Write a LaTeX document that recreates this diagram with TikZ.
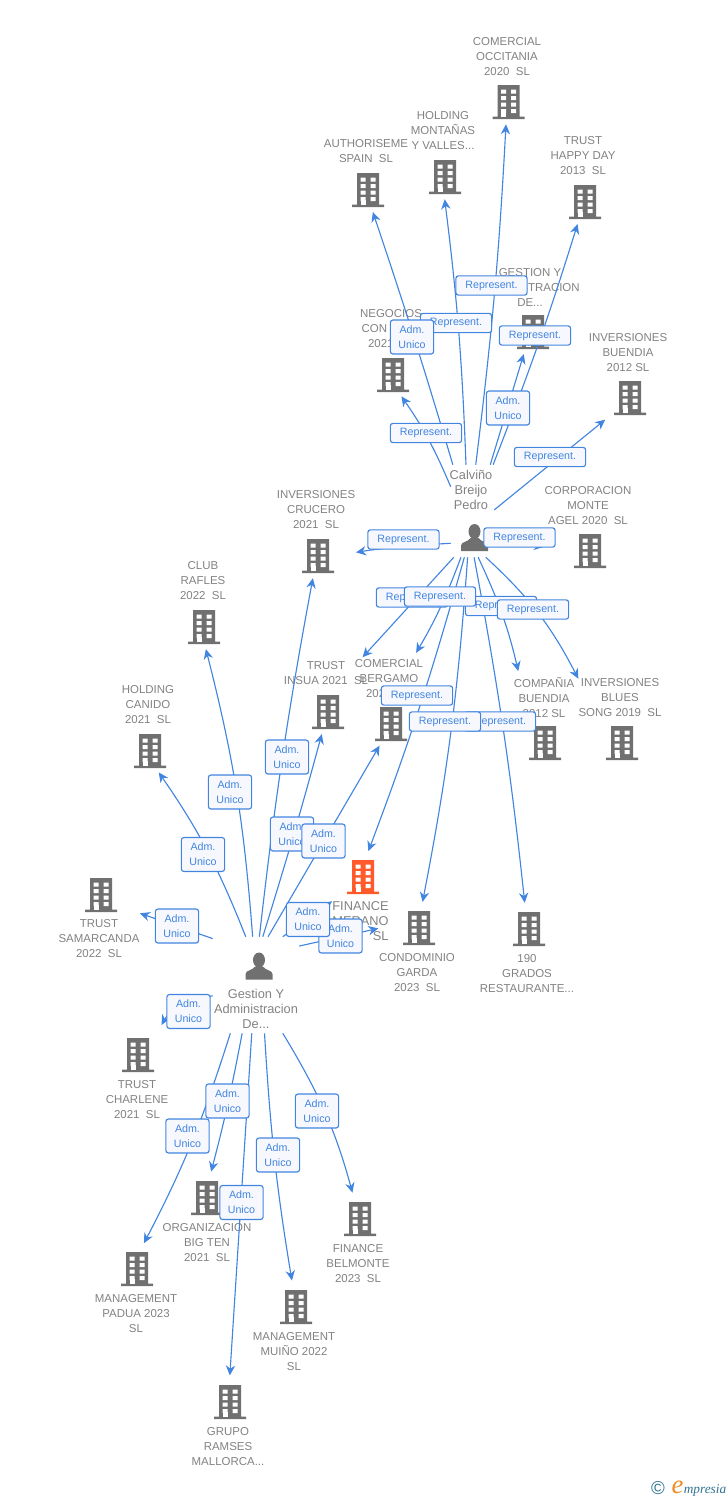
\documentclass[tikz,border=0pt]{standalone}
\usepackage{fontspec}
\setmainfont{Liberation Sans}
\newfontfamily\logofont{Liberation Serif}
\usetikzlibrary{arrows.meta}

\definecolor{linkblue}{HTML}{4285E0}
\definecolor{tagfill}{HTML}{F6F8FD}
\definecolor{icongray}{HTML}{707070}
\definecolor{labelgray}{HTML}{828282}
\definecolor{hotred}{HTML}{FF5A2B}
\definecolor{logoteal}{HTML}{2F7391}
\definecolor{logoorange}{HTML}{F08A24}

\tikzset{
  bldg/.style={inner sep=0pt, minimum width=24pt, minimum height=27pt, path picture={
    \fill[#1, shift={(path picture bounding box.center)}]
      (-11,-16) rectangle (11,15.5) (-16,15.5) rectangle (16,18);
    \foreach \wy in {-11.5,-5,1.5,8} {
      \fill[white, shift={(path picture bounding box.center)}]
        (-7.5,\wy) rectangle (-2.5,\wy+4) (2.5,\wy) rectangle (7.5,\wy+4);
    }
    \fill[white, shift={(path picture bounding box.center)}] (-7.5,11) rectangle (-2.5,15.5);
  }},
  bldg/.default=icongray,
  man/.style={inner sep=0pt, minimum width=21pt, minimum height=21pt, path picture={
    \fill[icongray, shift={(path picture bounding box.center)}]
      (0,-6) ellipse (6 and 7.5)
      (-13.5,13.5) -- (-13.5,8) .. controls (-13.5,4) and (-6,4.5) .. (-4,0.5) -- (4,0.5)
      .. controls (6,4.5) and (13.5,4) .. (13.5,8) -- (13.5,13.5) -- cycle;
  }},
  zone/.style={inner sep=0pt},
  lab/.style={inner sep=0pt, align=center, yshift=-0.75pt, text=labelgray, font=\fontsize{8.6pt}{11.25pt}\selectfont},
  biglab/.style={lab, font=\fontsize{9.6pt}{11.25pt}\selectfont},
  link/.style={->, >={Stealth[length=7.5pt,width=7pt]}, draw=linkblue, line width=0.85pt, shorten >=3.75pt},
  linkdown/.style={link, shorten >=5.5pt},
  reptag/.style={draw=linkblue, line width=0.85pt, fill=tagfill, rounded corners=2pt, inner sep=0pt,
    minimum width=53.5pt, minimum height=14.5pt, text=linkblue, font=\fontsize{8pt}{11.25pt}\selectfont},
  admtag/.style={reptag, align=center, minimum width=32.5pt, minimum height=25.5pt}
}

\begin{document}
\begin{tikzpicture}[x=0.75pt, y=-0.75pt]
  \useasboundingbox (0,0) rectangle (728,1500);

  % people
  \node[zone, minimum width=32.25pt, minimum height=69pt] (calvino) at (472.5,511) {};
  \node[man] (calvino-icon) at (474.5,537.5) {};
  \node[biglab] (calvino-t) at (471,489) {Calviño\\Breijo\\Pedro};
  \node[zone, minimum width=64.5pt, minimum height=72pt] (gestion) at (256,985) {};
  \node[man] (gestion-icon) at (259,966) {};
  \node[biglab] (gestion-t) at (256,1008) {Gestion Y\\Administracion\\De...};

  % companies, label above
  \node[bldg] (occitania) at (508.5,101) {};
  \node[lab] (occitania-t) at (507,56) {COMERCIAL\\OCCITANIA\\2020~~SL};
  \node[bldg] (montanas) at (445,176) {};
  \node[lab] (montanas-t) at (443,130) {HOLDING\\MONTAÑAS\\Y VALLES...};
  \node[bldg] (authoriseme) at (368,189) {};
  \node[lab] (authoriseme-t) at (366,150.5) {AUTHORISEME\\SPAIN~~SL};
  \node[bldg] (happyday) at (585,201) {};
  \node[lab] (happyday-t) at (583,155) {TRUST\\HAPPY DAY\\2013~~SL};
  \node[bldg] (gestionadm) at (533,331) {};
  \node[lab] (gestionadm-t) at (530,286) {GESTION Y\\ADMINISTRACION\\DE...};
  \node[bldg] (buendia) at (630,397) {};
  \node[lab] (buendia-t) at (628,352) {INVERSIONES\\BUENDIA\\2012 SL};
  \node[bldg] (negocios) at (393,374) {};
  \node[lab] (negocios-t) at (391,328) {NEGOCIOS\\CON\phantom{DADO}\\2021\phantom{~~SL}};
  \node[bldg] (crucero) at (318,555) {};
  \node[lab] (crucero-t) at (316,509) {INVERSIONES\\CRUCERO\\2021~~SL};
  \node[bldg] (corporacion) at (590,550) {};
  \node[lab] (corporacion-t) at (588,505) {CORPORACION\\MONTE\\AGEL 2020~~SL};
  \node[bldg] (rafles) at (204,626) {};
  \node[lab] (rafles-t) at (203,580) {CLUB\\RAFLES\\2022~~SL};
  \node[bldg] (canido) at (150,750) {};
  \node[lab] (canido-t) at (148,704) {HOLDING\\CANIDO\\2021~~SL};
  \node[bldg] (insua) at (328,711) {};
  \node[lab] (insua-t) at (326,672.5) {TRUST\\INSUA 2021~~SL};
  \node[bldg] (bergamo) at (391,723) {};
  \node[lab] (bergamo-t) at (389,678) {COMERCIAL\\BERGAMO\\202\phantom{1~~SL}};
  \node[bldg] (compania) at (545,742) {};
  \node[lab] (compania-t) at (544,697) {COMPAÑIA\\BUENDIA\\2012 SL};
  \node[bldg] (blues) at (622,742) {};
  \node[lab] (blues-t) at (620,697) {INVERSIONES\\BLUES\\SONG 2019~~SL};

  % companies, label below
  \node[bldg=hotred] (merano) at (363,876) {};
  \node[biglab, align=right] (merano-t) at (360.5,920) {FINANCE\\MERANO\\SL};
  \node[bldg] (condominio) at (419,927) {};
  \node[lab] (condominio-t) at (417,972) {CONDOMINIO\\GARDA\\2023~~SL};
  \node[bldg] (grados) at (529,928) {};
  \node[lab] (grados-t) at (527,973) {190\\GRADOS\\RESTAURANTE...};
  \node[bldg] (samarcanda) at (101,894) {};
  \node[lab] (samarcanda-t) at (99,938) {TRUST\\SAMARCANDA\\2022~~SL};
  \node[bldg] (charlene) at (138,1054) {};
  \node[lab] (charlene-t) at (137,1099) {TRUST\\CHARLENE\\2021~~SL};
  \node[bldg] (bigten) at (207,1197) {};
  \node[lab] (bigten-t) at (207,1242) {ORGANIZACION\\BIG TEN\\2021~~SL};
  \node[bldg] (belmonte) at (360,1218) {};
  \node[lab] (belmonte-t) at (358,1263) {FINANCE\\BELMONTE\\2023~~SL};
  \node[bldg] (padua) at (137,1268) {};
  \node[lab] (padua-t) at (136,1313) {MANAGEMENT\\PADUA 2023\\SL};
  \node[bldg] (muino) at (296,1306) {};
  \node[lab] (muino-t) at (294,1351) {MANAGEMENT\\MUIÑO 2022\\SL};
  \node[bldg] (ramses) at (230,1401) {};
  \node[lab] (ramses-t) at (228,1446) {GRUPO\\RAMSES\\MALLORCA...};

  % links from the person at the top
  \draw[link] (calvino.86) to[bend right=2] (occitania.263);
  \draw[link] (calvino.98) to[bend right=2.5] (montanas.267);
  \draw[link] (calvino.113) to[bend right=1] (authoriseme.280);
  \draw[link] (calvino.132) to[bend right=6] (negocios.287);
  \draw[link] (calvino.66) to[bend right=2] (happyday.252);
  \draw[link] (calvino.69) -- (gestionadm.247);
  \draw[link, shorten >=8.25pt] (calvino.3) -- (buendia.224);
  \draw[link, shorten >=16.5pt] (calvino.236) to[bend right=3] (crucero.357);
  \draw[link, shorten >=22.5pt] (calvino.307) -- (corporacion.183);
  \draw[link, shorten >=4.5pt] (calvino.248) -- (insua-t.20);
  \draw[link, shorten >=6pt] (calvino.256) to[bend left=5] (bergamo-t.40);
  \draw[link, shorten >=5.25pt] (calvino.260) to[bend left=2.5] (merano.81);
  \draw[link, shorten >=5.25pt] (calvino.264) to[bend left=3.4] (condominio.83);
  \draw[link, shorten >=5.25pt] (calvino.272) to[bend left=2.2] (grados.101);
  \draw[link, shorten >=5pt] (calvino.277) to[bend left=6] (compania-t.140);
  \draw[link, shorten >=0pt] (calvino.286) to[bend left=10] (blues-t.north west);

  % links from the person below
  \draw[link, shorten >=18pt] (gestion.133) -- (samarcanda.325);
  \draw[link] (gestion.102) to[bend right=6.5] (canido.288);
  \draw[link] (gestion.94) to[bend right=5] (rafles.272);
  \draw[link] (gestion.86) to[bend left=2] (crucero.257);
  \draw[link] (gestion.82) to[bend right=1] (insua.255);
  \draw[link] (gestion.76) -- (bergamo.244);
  \draw[link, shorten >=0pt] (gestion.61) -- (merano-t.north west);
  \draw[link, shorten >=18.75pt] (gestion.42) -- (condominio.166);
  \draw[link, shorten >=11pt] (gestion.194) to[bend right=25] (charlene.45);
  \draw[linkdown] (gestion.242) to[bend left=5] (padua.79);
  \draw[linkdown] (gestion.254) to[bend left=2] (bigten.83);
  \draw[linkdown] (gestion.265) -- (ramses.92);
  \draw[linkdown] (gestion.280) to[bend right=3] (muino.99);
  \draw[linkdown] (gestion.299) to[bend left=8] (belmonte.107);

  % tags on the links
  \node[reptag] (rep-occitania) at (491.5,285.5) {Represent.};
  \node[reptag] (rep-montanas) at (456,323) {Represent.};
  \node[admtag] (adm-authoriseme) at (412,337) {Adm.\\Unico};
  \node[reptag] (rep-happyday) at (535,335.5) {Represent.};
  \node[admtag] (adm-gestionadm) at (508,408) {Adm.\\Unico};
  \node[reptag] (rep-negocios) at (426,433) {Represent.};
  \node[reptag] (rep-buendia) at (550,457) {Represent.};
  \node[reptag] (rep-crucero) at (403.5,539.5) {Represent.};
  \node[reptag] (rep-corporacion) at (519.5,537.5) {Represent.};
  \node[reptag] (rep-insua) at (412,597.5) {Represent.};
  \node[reptag] (rep-compania) at (501,606) {Represent.};
  \node[reptag] (rep-bergamo) at (440,596.5) {Represent.};
  \node[reptag] (rep-blues) at (533,609.5) {Represent.};
  \node[reptag] (rep-merano) at (417,695.5) {Represent.};
  \node[reptag] (rep-grados) at (500,721.5) {Represent.};
  \node[reptag] (rep-condominio) at (445,721.5) {Represent.};
  \node[admtag] (adm-crucero) at (287,757) {Adm.\\Unico};
  \node[admtag] (adm-rafles) at (230,792) {Adm.\\Unico};
  \node[admtag] (adm-insua) at (292,834) {Adm.\\Unico};
  \node[admtag] (adm-bergamo) at (323.5,841) {Adm.\\Unico};
  \node[admtag] (adm-canido) at (203,854.5) {Adm.\\Unico};
  \node[admtag] (adm-samarcanda) at (177,926) {Adm.\\Unico};
  \node[admtag] (adm-condominio) at (340.5,936) {Adm.\\Unico};
  \node[admtag] (adm-merano) at (308,919.5) {Adm.\\Unico};
  \node[admtag] (adm-charlene) at (188.5,1011.5) {Adm.\\Unico};
  \node[admtag] (adm-bigten) at (227.5,1101) {Adm.\\Unico};
  \node[admtag] (adm-belmonte) at (317,1111) {Adm.\\Unico};
  \node[admtag] (adm-padua) at (187.5,1136) {Adm.\\Unico};
  \node[admtag] (adm-muino) at (278,1155) {Adm.\\Unico};
  \node[admtag] (adm-ramses) at (241.5,1202.5) {Adm.\\Unico};

  % logo
  \node[inner sep=0pt, text=logoteal, font=\fontsize{14pt}{14pt}\selectfont] (logo-c) at (658,1488.5) {©};
  \node[inner sep=0pt, text=logoorange, font=\logofont\fontsize{20pt}{20pt}\itshape] (logo-e) at (677.5,1487.5) {e};
  \node[inner sep=0pt, anchor=west, text=logoteal, font=\logofont\fontsize{10pt}{10pt}\itshape] (logo-m) at (683.5,1490) {mpresia};
\end{tikzpicture}
\end{document}
